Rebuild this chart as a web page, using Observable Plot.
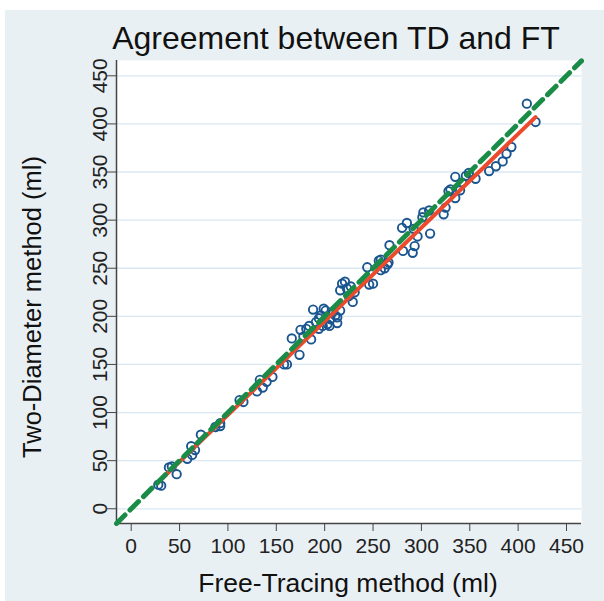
<!DOCTYPE html>
<html><head><meta charset="utf-8">
<script src="https://cdn.jsdelivr.net/npm/d3@7"></script>
<script src="https://cdn.jsdelivr.net/npm/@observablehq/plot@0.6"></script>
<style>
body{margin:0;background:#fff;width:604px;height:601px;overflow:hidden;font-family:"Liberation Sans",Arial,sans-serif;}
#panel{position:absolute;left:5px;top:10px;width:599px;height:591px;background:#e9f0f4;}
#chart{position:absolute;left:0;top:0;}
.t{position:absolute;color:#111;white-space:nowrap;line-height:1;}
#title{left:36px;width:600px;text-align:center;top:22px;font-size:32px;}
#xlabel{left:48px;width:600px;text-align:center;top:570px;font-size:26.5px;}
#ylabel{left:33px;top:307px;font-size:25.5px;transform:translate(-50%,-50%) rotate(-90deg);}
</style></head><body>
<div id="panel"></div>
<div id="chart"></div>
<div class="t" id="title">Agreement between TD and FT</div>
<div class="t" id="xlabel">Free-Tracing method (ml)</div>
<div class="t" id="ylabel">Two-Diameter method (ml)</div>
<script>
// Free-Tracing (x) and Two-Diameter (y) volumes, ml
const ftValues = [28,31,39,42,47,58,63,62,66,72,87,92,92,112,116,
  130,133,136,140,146,158,161,
  166,174,175,178,181,184,186,188,191,194,194,196,198,199,201,203,205,206,208,211,213,213,216,216,218,221,223,225,227,229,231,
  244,246,250,256,258,258,262,265,266,267,280,285,281,291,293,292,296,301,302,308,309,
  323,325,328,330,335,335,340,342,346,349,356,370,377,384,388,393,409,418];
const tdValues = [25,24,43,44,36,52,56,65,61,77,85,86,89,113,111,
  122,134,126,132,137,150,150,
  177,160,186,179,187,190,176,207,194,198,187,201,190,208,206,192,190,197,204,201,199,193,206,227,234,236,229,221,231,215,225,
  251,233,234,258,248,259,250,254,256,274,292,297,268,266,273,291,283,303,308,310,286,
  306,313,330,332,345,323,331,339,346,349,343,351,356,361,369,376,421,402];
// fitted regression line (ends)
const fitX = [28, 418];
const fitY = [27.5, 407];
// line of equality
const eqX = [-15.2, 465.5];
const eqY = [-15.2, 465.5];
const tickValues = [0,50,100,150,200,250,300,350,400,450];
const xDomain = [-15.2, 465.5];
const yDomain = [-15.3, 465.9];

const pts = ftValues.map((x, i) => ({x, y: tdValues[i]}));
const fit = fitX.map((x, i) => ({x, y: fitY[i]}));
const eq = eqX.map((x, i) => ({x, y: eqY[i]}));

const chart = Plot.plot({
  width: 604, height: 601,
  marginLeft: 116, marginRight: 23, marginTop: 60, marginBottom: 78,
  style: {background: "transparent", fontFamily: "'Liberation Sans', Arial, sans-serif", color: "#222"},
  x: {domain: xDomain},
  y: {domain: yDomain},
  marks: [
    Plot.frame({fill: "white", stroke: "none"}),
    Plot.gridY(tickValues, {stroke: "#d8e7f2", strokeOpacity: 1, strokeWidth: 1.3}),
    Plot.ruleX([xDomain[0]], {stroke: "#444", strokeWidth: 1.5}),
    Plot.ruleY([yDomain[0]], {stroke: "#444", strokeWidth: 1.5}),
    Plot.axisX(tickValues, {tickSize: 8, tickPadding: 7, fontSize: 21, label: null, stroke: "#444"}),
    Plot.axisY(tickValues, {tickSize: 9, tickPadding: 1, tickRotate: -90, fontSize: 21, label: null, stroke: "#444"}),
    Plot.dot(pts, {x: "x", y: "y", r: 4.2, stroke: "#1a5590", strokeWidth: 1.9}),
    Plot.line(fit, {x: "x", y: "y", stroke: "#ec4a2c", strokeWidth: 4}),
    Plot.line(eq, {x: "x", y: "y", stroke: "#1a8c47", strokeWidth: 5, strokeDasharray: "12,7"})
  ]
});
document.getElementById("chart").appendChild(chart);
</script>
</body></html>
